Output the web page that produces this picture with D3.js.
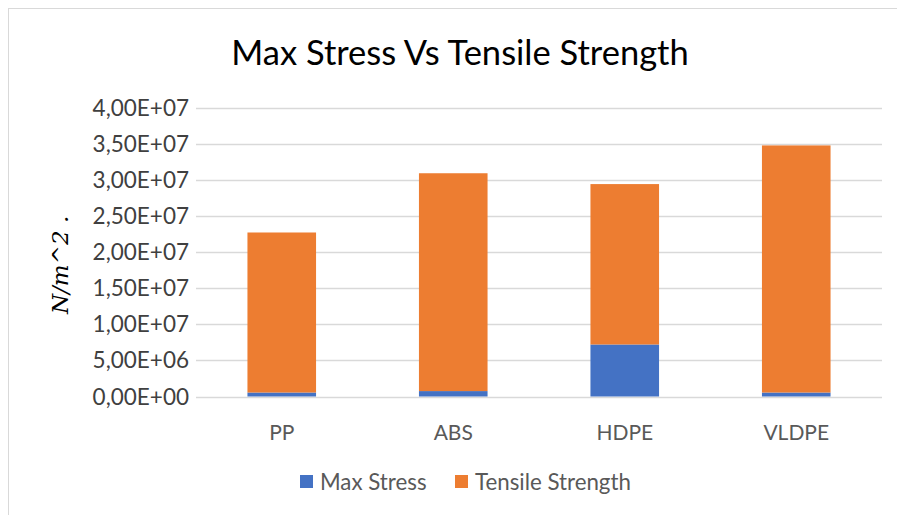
<!DOCTYPE html>
<html>
<head>
<meta charset="utf-8">
<script src="https://cdn.jsdelivr.net/npm/d3@7"></script>
<style>
  body { margin: 0; background: #fff; }
  svg { display: block; }
</style>
</head>
<body>
<svg width="897" height="515"></svg>
<script>
var categories = ["PP", "ABS", "HDPE", "VLDPE"];
var maxStress = [5.5e5, 7.5e5, 7.2e6, 5.5e5];
var tensileStrength = [2.215e7, 3.015e7, 2.22e7, 3.42e7];
var yTicks = [0, 5e6, 1e7, 1.5e7, 2e7, 2.5e7, 3e7, 3.5e7, 4e7];
var seriesNames = ["Max Stress", "Tensile Strength"];
var seriesColors = ["#4472c4", "#ed7d31"];

var svg = d3.select("svg"),
    width = +svg.attr("width"),
    height = +svg.attr("height");

var font = "Lato, 'Open Sans', sans-serif";

// chart area border
svg.append("rect")
    .attr("x", 8.5).attr("y", 8.5)
    .attr("width", width).attr("height", height)
    .attr("fill", "#fff")
    .attr("stroke", "#d9d9d9");

var plotLeft = 196, plotRight = 882, plotTop = 107.5, plotBottom = 396.5;

var x = d3.scaleBand().domain(categories).range([plotLeft, plotRight]).paddingInner(0.6).paddingOuter(0.3);
var y = d3.scaleLinear().domain([0, 4e7]).range([plotBottom, plotTop]);

function fmt(v) {
    var e = v === 0 ? 0 : Math.floor(Math.log10(v));
    var m = v / Math.pow(10, e);
    var exp = (e < 10 ? "0" : "") + e;
    return m.toFixed(2).replace(".", ",") + "E+" + exp;
}

// gridlines
svg.append("g").selectAll("line").data(yTicks).join("line")
    .attr("x1", plotLeft).attr("x2", plotRight)
    .attr("y1", function (d) { return Math.round(y(d)) + 0.5; })
    .attr("y2", function (d) { return Math.round(y(d)) + 0.5; })
    .attr("stroke", "#d9d9d9")
    .attr("stroke-width", 1.5);

// y tick labels
svg.append("g").selectAll("text").data(yTicks).join("text")
    .attr("x", 189)
    .attr("y", function (d) { return y(d); })
    .attr("dy", "0.36em")
    .attr("text-anchor", "end")
    .attr("font-family", font)
    .attr("font-size", 22.5)
    .attr("fill", "#404040")
    .text(fmt);

// stacked bars
var stackData = categories.map(function (c, i) {
    return { cat: c, ms: maxStress[i], ts: tensileStrength[i] };
});
var stack = d3.stack().keys(["ms", "ts"])(stackData);

stack.forEach(function (layer, k) {
    svg.append("g").selectAll("rect").data(layer).join("rect")
        .attr("x", function (d) { return x(d.data.cat); })
        .attr("width", x.bandwidth())
        .attr("y", function (d) { return y(d[1]); })
        .attr("height", function (d) { return y(d[0]) - y(d[1]); })
        .attr("fill", seriesColors[k]);
});

// x labels
svg.append("g").selectAll("text").data(categories).join("text")
    .attr("x", function (d) { return x(d) + x.bandwidth() / 2; })
    .attr("y", 432)
    .attr("dy", "0.36em")
    .attr("text-anchor", "middle")
    .attr("font-family", font)
    .attr("font-size", 21)
    .attr("fill", "#595959")
    .text(function (d) { return d; });

// title
svg.append("text")
    .attr("x", 460).attr("y", 53)
    .attr("dy", "0.36em")
    .attr("text-anchor", "middle")
    .attr("font-family", font)
    .attr("font-size", 34.5)
    .attr("fill", "#000")
    .text("Max Stress Vs Tensile Strength");

// y axis title
svg.append("text")
    .attr("transform", "translate(68,314) rotate(-90)")
    .attr("text-anchor", "start")
    .attr("font-family", "'DejaVu Serif', 'Liberation Serif', serif")
    .attr("font-style", "italic")
    .attr("font-size", 23)
    .attr("fill", "#000")
    .text("N/m^2 .");

// legend
var legendX = [300, 455];
seriesNames.forEach(function (name, i) {
    svg.append("rect")
        .attr("x", legendX[i]).attr("y", 475)
        .attr("width", 13).attr("height", 13)
        .attr("fill", seriesColors[i]);
    svg.append("text")
        .attr("x", legendX[i] + 20).attr("y", 482)
        .attr("dy", "0.36em")
        .attr("font-family", font)
        .attr("font-size", 22.3)
        .attr("fill", "#595959")
        .text(name);
});
</script>
</body>
</html>
